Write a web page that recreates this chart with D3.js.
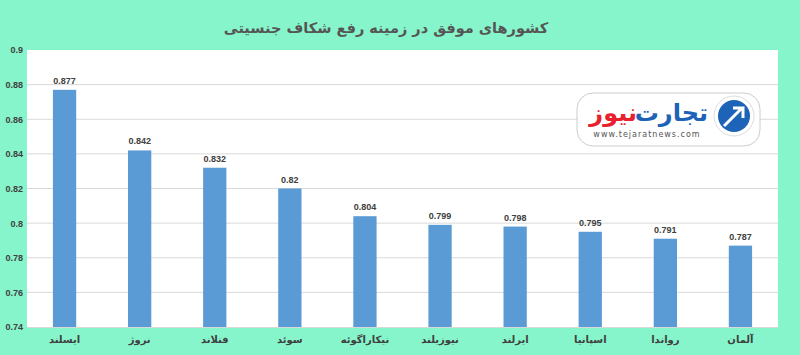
<!DOCTYPE html>
<html>
<head>
<meta charset="utf-8">
<script src="https://cdn.jsdelivr.net/npm/d3@7"></script>
<style>
  body { margin: 0; background: #86f5cb; }
  svg { display: block; }
</style>
</head>
<body>
<div id="chart"></div>
<script>
// data
var countries = ["ایسلند", "نروژ", "فنلاند", "سوئد", "نیکاراگوئه", "نیوزیلند", "ایرلند", "اسپانیا", "رواندا", "آلمان"];
var scores = [0.877, 0.842, 0.832, 0.82, 0.804, 0.799, 0.798, 0.795, 0.791, 0.787];
var yTicks = [0.74, 0.76, 0.78, 0.8, 0.82, 0.84, 0.86, 0.88, 0.9];
var title = "کشورهای موفق در زمینه رفع شکاف جنسیتی";

var width = 800, height = 355;
var margin = { top: 50, right: 22, bottom: 28, left: 27 };
var innerWidth = width - margin.left - margin.right;
var innerHeight = height - margin.top - margin.bottom;

var svg = d3.select("#chart").append("svg")
  .attr("width", width)
  .attr("height", height);

svg.append("rect")
  .attr("width", width).attr("height", height)
  .attr("fill", "#86f5cb");

svg.append("text")
  .attr("x", 386).attr("y", 33)
  .attr("text-anchor", "middle")
  .attr("font-family", "DejaVu Sans")
  .attr("font-size", 14.5)
  .attr("font-weight", "bold")
  .attr("fill", "#555")
  .text(title);

var g = svg.append("g")
  .attr("transform", "translate(" + margin.left + "," + margin.top + ")");

g.append("rect")
  .attr("width", innerWidth).attr("height", innerHeight)
  .attr("fill", "#fff");

var x = d3.scaleBand()
  .domain(countries)
  .range([0, innerWidth])
  .paddingInner(0.69)
  .paddingOuter(0.345);

var y = d3.scaleLinear()
  .domain([0.74, 0.9])
  .range([innerHeight, 0]);

// gridlines
g.selectAll(".grid")
  .data(yTicks.filter(d => d > 0.74 && d < 0.9))
  .enter().append("line")
  .attr("x1", 0).attr("x2", innerWidth)
  .attr("y1", d => y(d)).attr("y2", d => y(d))
  .attr("stroke", "#d9d9d9").attr("stroke-width", 1);

// y axis labels
var yAxis = d3.axisLeft(y).tickValues(yTicks).tickSize(0).tickPadding(4)
  .tickFormat(d => d3.format("")(+d.toFixed(2)));
var ya = g.append("g").call(yAxis);
ya.select(".domain").remove();
ya.selectAll("text")
  .attr("font-family", "Liberation Sans, Arial, sans-serif")
  .attr("font-size", 9).attr("font-weight", "bold").attr("fill", "#404040");

// x axis labels
var xAxis = d3.axisBottom(x).tickSize(0).tickPadding(9);
var xa = g.append("g").attr("transform", "translate(0," + innerHeight + ")").call(xAxis);
xa.select(".domain").attr("stroke", "#d9d9d9");
xa.selectAll("text")
  .attr("font-family", "DejaVu Sans")
  .attr("font-size", 10).attr("font-weight", "bold").attr("fill", "#404040");

// bars
g.selectAll(".bar")
  .data(scores)
  .enter().append("rect")
  .attr("x", (d, i) => x(countries[i]))
  .attr("y", d => y(d))
  .attr("width", x.bandwidth())
  .attr("height", d => innerHeight - y(d))
  .attr("fill", "#5b9bd5");

// value labels
g.selectAll(".val")
  .data(scores)
  .enter().append("text")
  .attr("x", (d, i) => x(countries[i]) + x.bandwidth() / 2)
  .attr("y", d => y(d) - 6)
  .attr("text-anchor", "middle")
  .attr("font-family", "Liberation Sans, Arial, sans-serif")
  .attr("font-size", 9).attr("font-weight", "bold").attr("fill", "#404040")
  .text(d => d);

// logo
var logo = svg.append("g").attr("transform", "translate(577,93)");
logo.append("rect")
  .attr("width", 183).attr("height", 53).attr("rx", 16)
  .attr("fill", "#fff").attr("stroke", "#ccc").attr("stroke-width", 1);
logo.append("circle")
  .attr("cx", 157).attr("cy", 23).attr("r", 20)
  .attr("fill", "#fff").attr("stroke", "#ddd");
logo.append("circle")
  .attr("cx", 157).attr("cy", 23).attr("r", 16)
  .attr("fill", "#1d63b7");
logo.append("path")
  .attr("d", "M147,33 L164,16 M156,15 L166,15 L166,25")
  .attr("stroke", "#fff").attr("stroke-width", 3).attr("fill", "none");
logo.append("text")
  .attr("x", 131).attr("y", 28)
  .attr("text-anchor", "end")
  .attr("font-family", "DejaVu Sans")
  .attr("font-size", 24).attr("font-weight", "bold")
  .attr("fill", "#1d63b7")
  .text("تجارت");
logo.append("text")
  .attr("x", 60).attr("y", 28)
  .attr("text-anchor", "end")
  .attr("font-family", "DejaVu Sans")
  .attr("font-size", 24).attr("font-weight", "bold")
  .attr("fill", "#e8212e")
  .text("نیوز");
logo.append("text")
  .attr("x", 70).attr("y", 44)
  .attr("text-anchor", "middle")
  .attr("font-family", "DejaVu Sans")
  .attr("font-size", 8)
  .attr("letter-spacing", 1)
  .attr("fill", "#555")
  .text("www.tejaratnews.com");
</script>
</body>
</html>
